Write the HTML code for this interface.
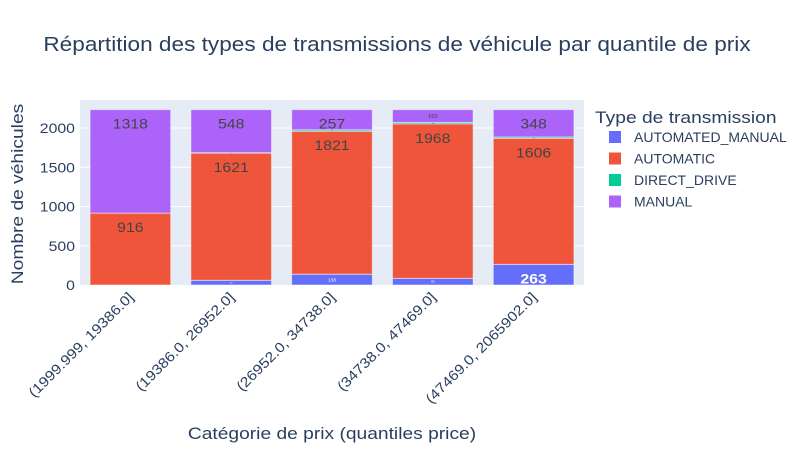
<!DOCTYPE html>
<html><head><meta charset="utf-8"><style>
body{margin:0;background:#fff;font-family:"Liberation Sans",Arial,sans-serif}
text{font-family:"Liberation Sans",Arial,sans-serif}
</style></head><body>
<svg id="c" width="808" height="450">
<rect x="0" y="0" width="808" height="450" fill="#fff"/>
<text class="s" x="397" y="51" font-size="20" fill="#2a3f5f" text-anchor="middle">Répartition des types de transmissions de véhicule par quantile de prix</text>
<rect x="80" y="100" width="504" height="185" fill="#e5ecf6"/>
<g id="grid"></g><g id="bars"></g><g id="axes"></g>
<text class="s" transform="translate(23,194) rotate(-90)" font-size="17" fill="#2a3f5f" text-anchor="middle">Nombre de véhicules</text>
<text class="s" x="332" y="439" font-size="17" fill="#2a3f5f" text-anchor="middle">Catégorie de prix (quantiles price)</text>
<g id="legend"></g>
</svg>
<script>
const categories=["(1999.999, 19386.0]","(19386.0, 26952.0]","(26952.0, 34738.0]","(34738.0, 47469.0]","(47469.0, 2065902.0]"];
const seriesNames=["AUTOMATED_MANUAL","AUTOMATIC","DIRECT_DRIVE","MANUAL"];
const automatedManual=[0,60,138,85,263];
const automatic=[916,1621,1821,1968,1606];
const directDrive=[0,5,18,18,17];
const manual=[1318,548,257,163,348];
const yTicks=[0,500,1000,1500,2000];
const colors=["#636efa","#EF553B","#00cc96","#ab63fa"];
const NS="http://www.w3.org/2000/svg";
const X0=80,W=504,Y0=285,PY=0.0785;
const y=v=>Y0-v*PY;
const step=W/categories.length;
const xc=i=>X0+step*(i+0.5);
function mk(t,a,p){const e=document.createElementNS(NS,t);for(const k in a)e.setAttribute(k,a[k]);p.appendChild(e);return e;}
const grid=document.getElementById('grid'),bars=document.getElementById('bars'),axes=document.getElementById('axes'),leg=document.getElementById('legend');
yTicks.forEach(t=>{
 if(t>0){const l=mk('line',{x1:X0,x2:X0+W,y1:y(t),y2:y(t),stroke:'#fff','stroke-width':1},grid);
 
 }
 const tx=mk('text',{x:75,y:y(t)+5,'font-size':14,fill:'#2a3f5f','text-anchor':'end',class:'s'},axes);tx.textContent=t;
 
 
});
const data=[automatedManual,automatic,directDrive,manual];
const bw=step*0.8;
categories.forEach((c,i)=>{
 let base=0;
 data.forEach((s,k)=>{
  const v=s[i];
  if(v>0){
   const r=mk('rect',{x:xc(i)-bw/2,y:y(base+v),width:bw,height:v*PY,fill:colors[k],stroke:'rgba(255,255,255,0.5)','stroke-width':1},bars);
   
   
   const h=v*PY;
   const inside=h>=18;
   const fs=inside?14:Math.max(2,h*0.45);
   const ty=inside?y(base+v)+19:y(base+v)+h/2+fs*0.35;
   const t=mk('text',{x:xc(i),y:ty,'font-size':fs,fill:(k==0?'#fff':'#444'),'text-anchor':'middle','font-weight':(k==0&&inside?'bold':'normal'),class:inside?'s':''},bars);
   t.textContent=v;
   
   
  }
  base+=v;
 });
 const lx=xc(i)+4,ly=298;
 const t=mk('text',{x:lx,y:ly,'font-size':14,fill:'#2a3f5f','text-anchor':'end',transform:`rotate(-45 ${lx} ${ly})`,class:'s'},axes);
 t.textContent=c;
 
 
});
const lt=mk('text',{x:595,y:123,'font-size':17,fill:'#2a3f5f',class:'s'},leg);lt.textContent="Type de transmission";


seriesNames.forEach((n,k)=>{
 const yy=137+k*21.5;
 const r=mk('rect',{x:609,y:yy-6,width:12,height:12,fill:colors[k]},leg);
 
 
 const t=mk('text',{x:634,y:yy+5,'font-size':14,fill:'#2a3f5f'},leg);t.textContent=n;
 
 
});
document.querySelectorAll('text.s').forEach(t=>{
 const L=t.getComputedTextLength();
 if(L>0){t.setAttribute('textLength',L*1.13);t.setAttribute('lengthAdjust','spacingAndGlyphs');}
});
</script>
</body></html>
